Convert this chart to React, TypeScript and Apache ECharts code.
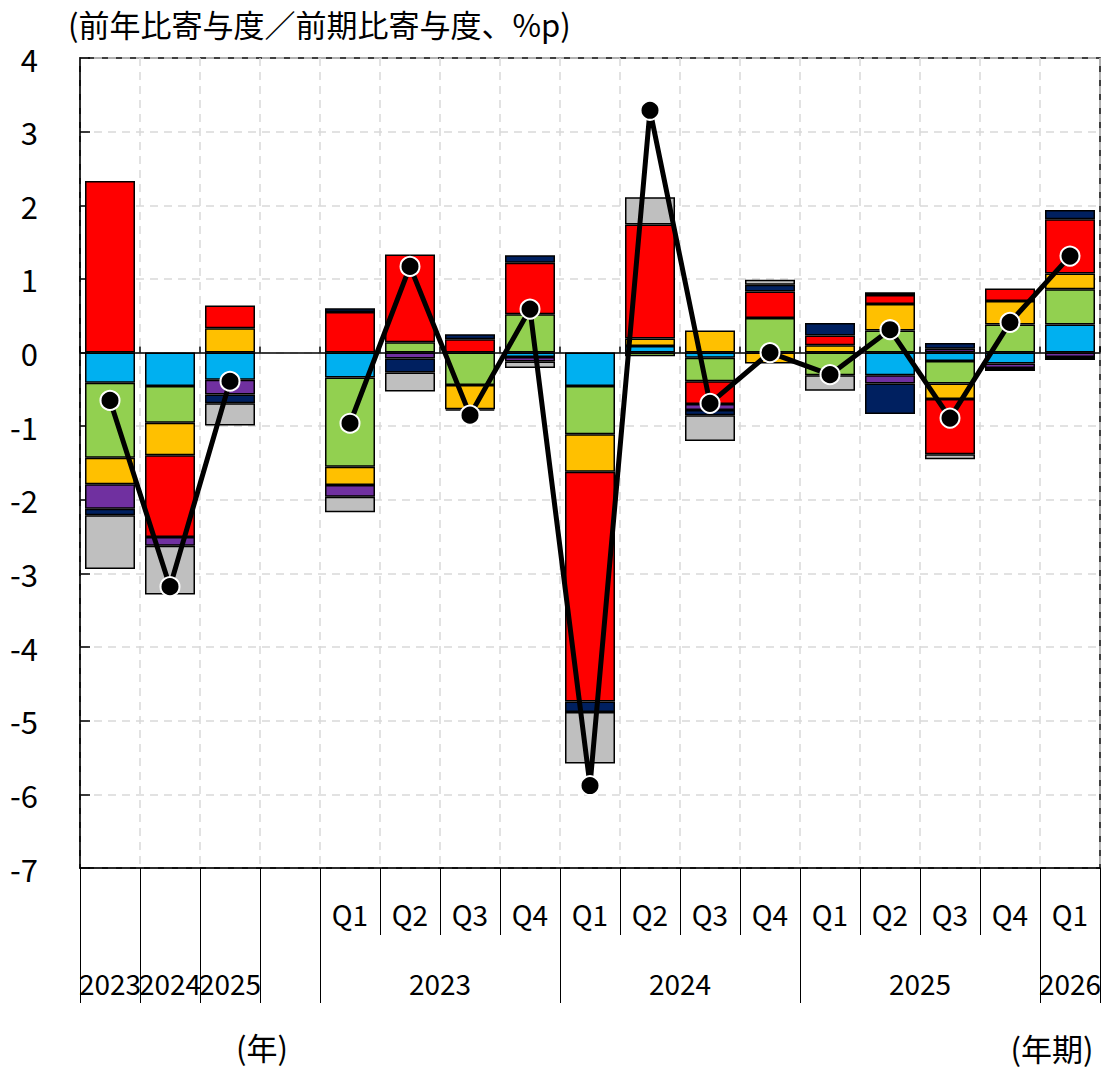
import React, { useEffect, useRef } from "react";
import * as echarts from "echarts";

const years = ["2023", "2024", "2025", "", "2023", "2023", "2023", "2023", "2024", "2024", "2024", "2024", "2025", "2025", "2025", "2025", "2026"];
const quarters = ["", "", "", "", "Q1", "Q2", "Q3", "Q4", "Q1", "Q2", "Q3", "Q4", "Q1", "Q2", "Q3", "Q4", "Q1"];

const cyanVals = [-0.41, -0.455, -0.37, null, -0.34, 0, 0, -0.06, -0.455, 0.09, -0.07, 0, 0, -0.31, -0.115, -0.15, 0.38];
const greenVals = [-1.02, -0.5, 0, null, -1.21, 0.14, -0.44, 0.52, -0.655, -0.05, -0.32, 0.47, -0.31, 0.3, -0.305, 0.38, 0.48];
const yellowVals = [-0.36, -0.44, 0.33, null, -0.25, 0, -0.33, 0, -0.51, 0.1, 0.3, -0.15, 0.1, 0.36, -0.21, 0.32, 0.215];
const redVals = [2.33, -1.11, 0.31, null, 0.55, 1.19, 0.18, 0.7, -3.12, 1.55, -0.31, 0.36, 0.13, 0.12, -0.75, 0.17, 0.735];
const purpleVals = [-0.33, -0.12, -0.2, null, -0.16, -0.08, 0, -0.06, 0, 0, -0.08, 0, 0, -0.11, 0.05, -0.06, -0.06];
const navyVals = [-0.09, 0, -0.12, null, 0.05, -0.19, 0.07, 0.1, -0.14, 0, -0.07, 0.09, 0.17, -0.415, 0.08, -0.04, 0.125];
const grayVals = [-0.73, -0.66, -0.3, null, -0.21, -0.26, -0.02, -0.09, -0.7, 0.37, -0.35, 0.07, -0.21, 0.04, -0.07, 0, -0.04];
const totalVals = [-0.65, -3.18, -0.39, null, -0.96, 1.17, -0.85, 0.59, -5.88, 3.29, -0.69, 0.0, -0.3, 0.31, -0.89, 0.41, 1.31];

const yTicks = { min: -7, max: 4, interval: 1 };

const FONT = "'Noto Sans CJK JP', 'Noto Sans', sans-serif";
const FS = 31;
const FS_X = 28;

export default function App() {
  const ref = useRef<HTMLDivElement>(null);
  useEffect(() => {
    document.body.style.margin = "0";
    const chart = echarts.init(ref.current!, null, { renderer: "svg" });
    const n = years.length;
    const categories = years.map((y, i) => (quarters[i] ? y + quarters[i] : y || " "));

    // group slots for bottom year labels
    const groups: { label: string; start: number; end: number }[] = [];
    let i = 0;
    while (i < n) {
      let j = i + 1;
      if (quarters[i] !== "") {
        while (j < n && quarters[j] !== "" && years[j] === years[i]) j++;
      }
      groups.push({ label: years[i], start: i, end: j, quarterly: quarters[i] !== "" } as any);
      i = j;
    }
    const longTicks = [0, ...groups.map((g) => g.end)];
    const qGroups = groups.filter((g: any) => g.quarterly);
    const qLabelPos = qGroups.map((g) => (g.start + g.end) / 2);
    const annualLabels = years.map((y, k) => (quarters[k] === "" ? y : ""));

    const nz = (arr: (number | null)[]) => arr.map((v) => (v === 0 || v === null ? null : v));

    const barSeries = [
      { name: "要因1", color: "#00B0F0", data: cyanVals },
      { name: "要因2", color: "#92D050", data: greenVals },
      { name: "要因3", color: "#FFC000", data: yellowVals },
      { name: "要因4", color: "#FF0000", data: redVals },
      { name: "要因5", color: "#7030A0", data: purpleVals },
      { name: "要因6", color: "#002060", data: navyVals },
      { name: "要因7", color: "#BFBFBF", data: grayVals },
    ].map((s) => ({
      name: s.name,
      type: "bar",
      stack: "total",
      xAxisIndex: 0,
      yAxisIndex: 0,
      barWidth: 50,
      data: nz(s.data),
      itemStyle: { color: s.color, borderColor: "#000", borderWidth: 1.5 },
      emphasis: { disabled: true },
    }));

    const labelStyle = {
      fontSize: FS_X,
      color: "#000",
      fontFamily: FONT,
      verticalAlign: "middle",
    };

    const option: any = {
      animation: false,
      textStyle: { fontFamily: FONT, color: "#000" },
      title: {
        text: "(前年比寄与度／前期比寄与度、%p)",
        left: 63,
        top: 3,
        textStyle: { fontFamily: FONT, fontSize: FS, fontWeight: "normal", color: "#000" },
      },
      grid: {
        left: 80,
        right: 5,
        top: 58,
        bottom: 199,
        show: true,
        borderColor: "#000",
        borderWidth: 1.5,
        backgroundColor: "#fff",
      },
      xAxis: [
        {
          type: "category",
          data: categories,
          gridIndex: 0,
          position: "bottom",
          boundaryGap: true,
          axisLine: { show: true, onZero: true, lineStyle: { color: "#000", width: 1.5 } },
          axisTick: { show: true, inside: true, length: 6, interval: 0, lineStyle: { color: "#000", width: 1.5 } },
          axisLabel: { show: false },
          splitLine: { show: true, interval: 0, lineStyle: { color: "#d9d9d9", type: [8, 6], width: 1.5 } },
        },
        {
          type: "category",
          data: quarters,
          gridIndex: 0,
          position: "bottom",
          boundaryGap: true,
          axisLine: { show: true, onZero: false, lineStyle: { color: "#000", width: 1.5 } },
          axisTick: { show: true, length: 67, interval: 0, lineStyle: { color: "#000", width: 1 } },
          axisLabel: { show: true, interval: 0, margin: 46, ...labelStyle },
          splitLine: { show: false },
        },
        {
          type: "value",
          gridIndex: 0,
          position: "bottom",
          min: 0,
          max: n,
          axisLine: { show: false, onZero: false },
          axisTick: { show: true, length: 135, customValues: longTicks, lineStyle: { color: "#000", width: 1 } },
          axisLabel: {
            show: true,
            customValues: qLabelPos,
            showMinLabel: true,
            showMaxLabel: true,
            hideOverlap: false,
            margin: 115,
            ...labelStyle,
            formatter: (v: number) => {
              const k = qLabelPos.findIndex((p) => Math.abs(p - v) < 1e-6);
              return k >= 0 ? qGroups[k].label : "";
            },
          },
          splitLine: { show: false },
        },
        {
          type: "category",
          data: annualLabels,
          gridIndex: 0,
          position: "bottom",
          boundaryGap: true,
          axisLine: { show: false, onZero: false },
          axisTick: { show: false },
          axisLabel: { show: true, interval: 0, hideOverlap: false, margin: 115, ...labelStyle },
          splitLine: { show: false },
        },
      ],
      yAxis: {
        type: "value",
        min: yTicks.min,
        max: yTicks.max,
        interval: yTicks.interval,
        axisLine: { show: true, onZero: false, lineStyle: { color: "#000", width: 1.5 } },
        axisTick: { show: true, inside: true, length: 10, lineStyle: { color: "#000", width: 1.5 } },
        axisLabel: { fontSize: FS, color: "#000", margin: 42, fontFamily: FONT },
        splitLine: { show: true, lineStyle: { color: "#d9d9d9", type: [8, 6], width: 1.5 } },
      },
      graphic: [
        {
          type: "text",
          x: 262,
          y: 1046,
          style: {
            text: "(年)",
            fontSize: FS,
            fontFamily: FONT,
            lineHeight: FS,
            fill: "#000",
            align: "center",
            verticalAlign: "middle",
          },
        },
        {
          type: "text",
          x: 1052,
          y: 1047,
          style: {
            text: "(年期)",
            fontSize: FS,
            fontFamily: FONT,
            lineHeight: FS,
            fill: "#000",
            align: "center",
            verticalAlign: "middle",
          },
        },
      ],
      series: [
        ...barSeries,
        {
          name: "合計",
          type: "line",
          xAxisIndex: 0,
          yAxisIndex: 0,
          data: totalVals,
          connectNulls: false,
          lineStyle: { color: "#000", width: 5 },
          symbol: "circle",
          symbolSize: 19,
          itemStyle: { color: "#000", borderColor: "#fff", borderWidth: 2 },
          z: 5,
          emphasis: { disabled: true },
        },
      ],
    };
    chart.setOption(option);
    return () => chart.dispose();
  }, []);
  return <div ref={ref} style={{ width: 1105, height: 1067 }} />;
}
